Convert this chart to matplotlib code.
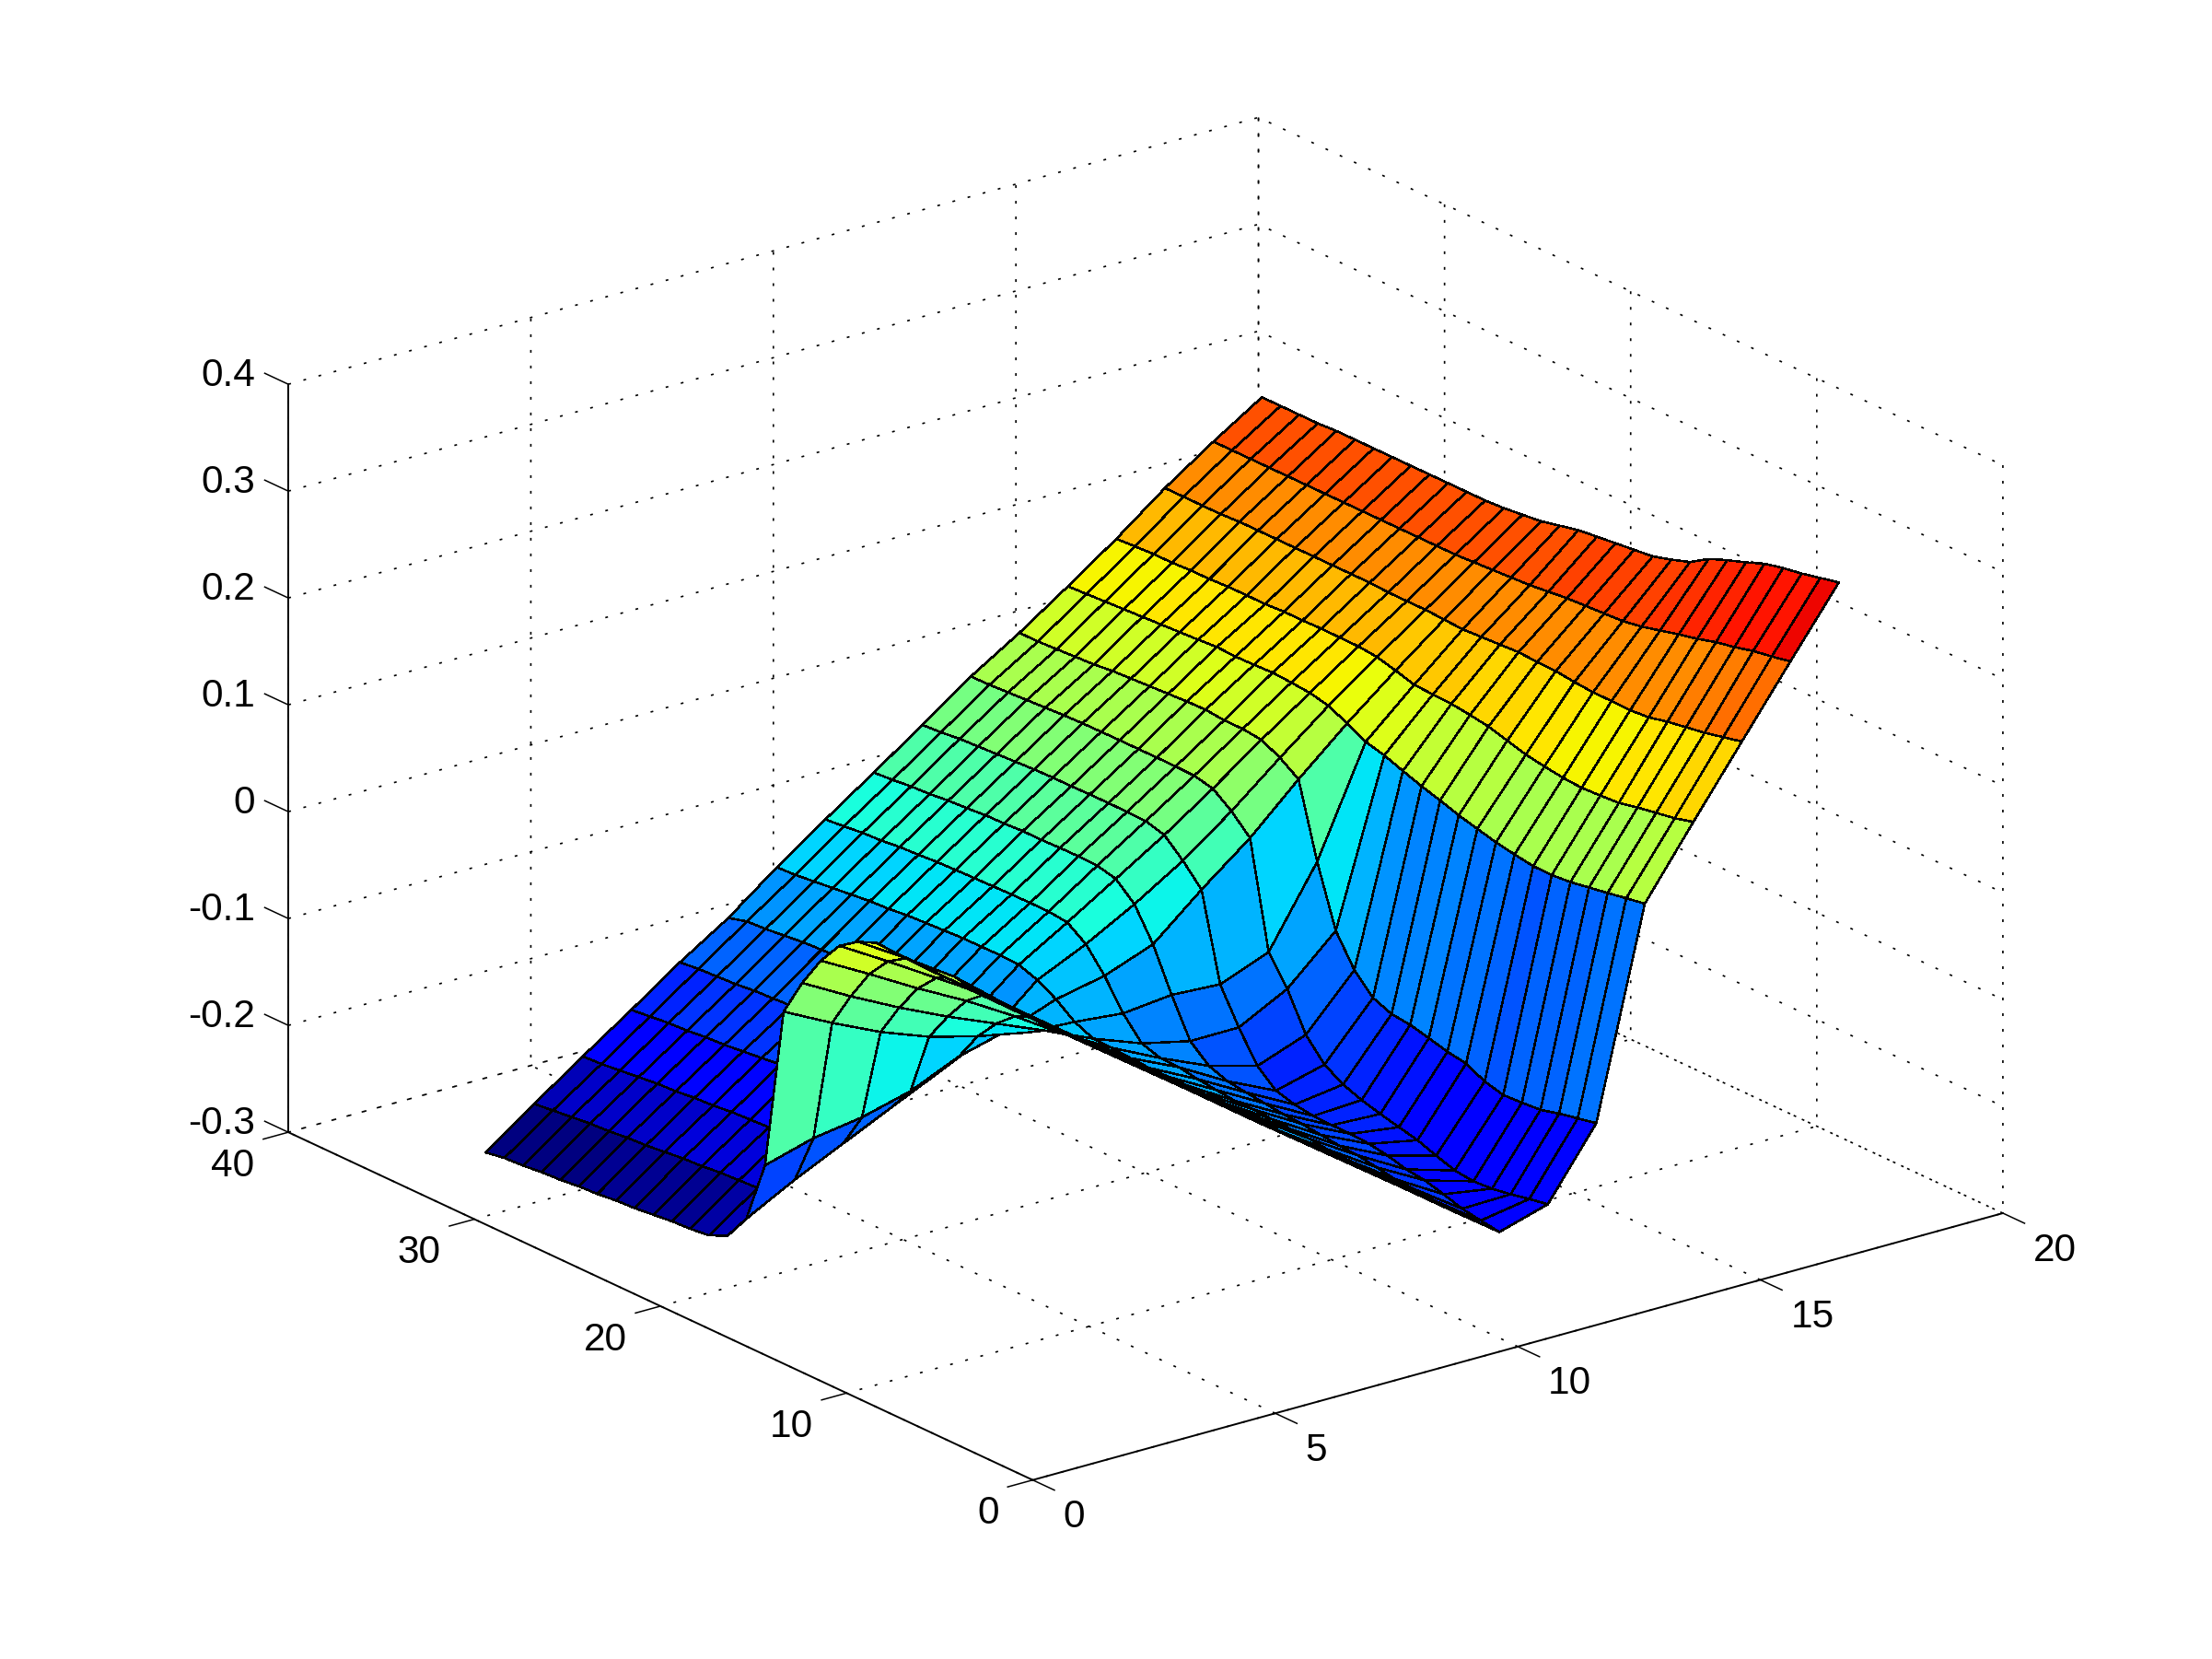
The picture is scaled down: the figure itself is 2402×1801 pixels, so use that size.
import numpy as np
import matplotlib
matplotlib.use("Agg")
import matplotlib.pyplot as plt
from mpl_toolkits.mplot3d import proj3d

x_vals = [2, 3, 4, 5, 6, 7, 8, 9, 10, 11, 12, 13, 14, 15, 16, 17, 18]
y_vals = [3.6, 4.6, 5.6, 6.6, 7.6, 8.6, 9.6, 10.6, 11.6, 12.6, 13.6, 14.6, 15.6, 16.6, 17.6, 18.6,
          19.6, 20.6, 21.6, 22.6, 23.6, 24.6, 25.6, 26.6, 27.6, 28.6, 29.6, 30.6, 31.6, 32.6, 33.6, 34.6]

# one row per x value, 32 heights along y
z_x02 = [.064, .064, .064, .064, .064, .064, .065, .065, .066, .066, .067, .060, .048, .026, -.003, -.038,
         -.190, -.248, -.272, -.280, -.282, -.283, -.285, -.287, -.288, -.290, -.291, -.293, -.294, -.296, -.297, -.300]
z_x03 = [.031, .031, .031, .031, .031, .031, .031, .031, .031, .031, .031, .032, .021, .001, -.028, -.061,
         -.177, -.224, -.244, -.248, -.249, -.250, -.252, -.253, -.255, -.257, -.258, -.260, -.261, -.263, -.265, -.267]
z_x04 = [-.002, -.002, -.002, -.002, -.002, -.002, -.002, -.002, -.002, -.002, -.002, .002, -.007, -.025, -.051, -.082,
         -.170, -.2025, -.212, -.216, -.218, -.220, -.221, -.222, -.224, -.225, -.227, -.228, -.230, -.232, -.234, -.235]
z_x05 = [-.035, -.035, -.035, -.035, -.035, -.035, -.035, -.035, -.035, -.035, -.035, -.035, -.035, -.049, -.072, -.099,
         -.158, -.181, -.185, -.186, -.187, -.188, -.189, -.190, -.192, -.194, -.196, -.197, -.199, -.200, -.202, -.204]
z_x06 = [-.069, -.069, -.069, -.069, -.069, -.069, -.069, -.069, -.069, -.069, -.069, -.069, -.069, -.076, -.091, -.111,
         -.138, -.160, -.160, -.160, -.160, -.161, -.161, -.162, -.163, -.164, -.165, -.166, -.168, -.169, -.170, -.172]
z_x07 = [-.102, -.102, -.102, -.102, -.102, -.102, -.102, -.102, -.102, -.102, -.102, -.102, -.102, -.105, -.110, -.120,
         -.126, -.138, -.130, -.128, -.128, -.128, -.128, -.129, -.130, -.131, -.132, -.133, -.135, -.137, -.138, -.143]
z_x08 = [-.135, -.135, -.135, -.135, -.135, -.133, -.133, -.133, -.133, -.133, -.133, -.133, -.132, -.1305, -.130, -.1225,
         -.1095, -.0995, -.0935, -.0926, -.0929, -.093, -.094, -.095, -.096, -.098, -.099, -.101, -.103, -.105, -.107, -.108]
z_x09 = [-.168, -.168, -.167, -.166, -.165, -.163, -.162, -.161, -.160, -.160, -.158, -.156, -.153, -.1526, -.147, -.127,
         -.100, -.0785, -.0663, -.0643, -.0643, -.0645, -.065, -.0655, -.066, -.0667, -.068, -.069, -.071, -.072, -.074, -.0757]
z_x10 = [-.2016, -.200, -.198, -.197, -.194, -.191, -.190, -.188, -.186, -.185, -.183, -.181, -.1786, -.1723, -.1573, -.1222,
         -.083, -.0536, -.038, -.0338, -.0332, -.0335, -.034, -.034, -.035, -.0355, -.037, -.038, -.040, -.041, -.043, -.0443]
z_x11 = [-.2345, -.232, -.229, -.2236, -.2188, -.2166, -.2119, -.209, -.2078, -.2078, -.2073, -.2048, -.1999, -.1849, -.157, -.1248,
         -.0443, -.0254, -.0095, -.0046, -.0041, -.004, -.004, -.0045, -.0045, -.005, -.006, -.007, -.008, -.009, -.011, -.0123]
z_x12 = [-.2211, -.2243, -.228, -.2309, -.2321, -.2301, -.2244, -.2181, -.214, -.2098, -.2049, -.1985, -.188, -.1682, -.1334, -.1071,
         -.0085, .0085, .0215, .0254, .0259, .026, .026, .026, .0258, .0256, .025, .024, .023, .022, .021, .0206]
z_x13 = [-.1576, -.1613, -.165, -.1696, -.171, -.172, -.1674, -.1588, -.1559, -.1513, -.147, -.145, -.138, -.1202, -.0915, -.035,
         .034, .046, .0547, .0567, .0567, .0584, .058, .057, .056, .055, .054, .052, .051, .05, .049, .049]
z_x14 = [.0353, .0322, .029, .026, .0229, .0214, .0216, .0244, .0276, .0321, .0366, .0424, .0476, .0537, .0602, .0647,
         .0738, .0822, .0861, .0876, .0888, .088, .0875, .0884, .087, .086, .085, .084, .083, .082, .081, .08]
z_x15 = [.0993, .0946, .0915, .0884, .0846, .0832, .0824, .0836, .0861, .089, .094, .099, .1017, .104, .1047, .1056,
         .1108, .1153, .1171, .1173, .1175, .117, .117, .116, .116, .116, .115, .115, .114, .114, .113, .112]
z_x16 = [.162, .158, .154, .151, .148, .144, .1425, .143, .143, .1445, .1466, .147, .148, .147, .146, .145,
         .146, .147, .147, .147, .148, .148, .148, .148, .148, .148, .148, .148, .147, .147, .147, .147]
z_x17 = [.2245, .221, .218, .2135, .210, .205, .201, .1965, .192, .189, .188, .187, .186, .184, .182, .181,
         .180, .179, .178, .178, .178, .178, .178, .178, .178, .178, .178, .178, .178, .178, .178, .178]
z_x18 = [.286, .282, .278, .275, .271, .264, .258, .251, .240, .234, .229, .227, .225, .223, .221, .217,
         .213, .211, .209, .208, .208, .208, .208, .208, .208, .208, .208, .208, .207, .207, .207, .207]

x_ticks = [0, 5, 10, 15, 20]
y_ticks = [0, 10, 20, 30, 40]
z_ticks = [-0.3, -0.2, -0.1, 0, 0.1, 0.2, 0.3, 0.4]
x_labels = ["0", "5", "10", "15", "20"]
y_labels = ["0", "10", "20", "30", "40"]
z_labels = ["-0.3", "-0.2", "-0.1", "0", "0.1", "0.2", "0.3", "0.4"]

W, H = 2402, 1801
FONT_SIZE = 30.5
plt.rcParams["font.family"] = ["Liberation Sans", "DejaVu Sans"]

Z = np.array([z_x02, z_x03, z_x04, z_x05, z_x06, z_x07, z_x08, z_x09, z_x10,
              z_x11, z_x12, z_x13, z_x14, z_x15, z_x16, z_x17, z_x18])
XX, YY = np.meshgrid(x_vals, y_vals, indexing="ij")

fig = plt.figure(figsize=(W / 100, H / 100), dpi=100, facecolor="white")
ax = fig.add_axes([0, 0, 1, 1], projection="3d", proj_type="ortho", facecolor="none")
ax.view_init(elev=21, azim=-127.5)
ax.set_box_aspect((1, 1, 0.655))
ax.set_xlim(0, 20, view_margin=0)
ax.set_ylim(0, 40, view_margin=0)
ax.set_zlim(-0.3, 0.4, view_margin=0)

jet = plt.get_cmap("jet", 64)
colors = jet((Z - Z.min()) / (Z.max() - Z.min()))
surf = ax.plot_surface(XX, YY, Z, rstride=1, cstride=1, facecolors=colors, shade=False, antialiased=False)
surf.set_edgecolor("k")
surf.set_linewidth(1.05)

ax.set_xticks(x_ticks)
ax.set_yticks(y_ticks)
ax.set_zticks(z_ticks)
ax.set_xticklabels([])
ax.set_yticklabels([])
ax.set_zticklabels([])
ax.zaxis.set_ticks_position("upper")

for axis in (ax.xaxis, ax.yaxis, ax.zaxis):
    axis.pane.set_visible(False)
    axis.line.set_color("k")
    axis.line.set_linewidth(1.4)
    axis._axinfo["grid"].update(color="k", linewidth=1.2, linestyle=(0, (1.8, 8.4)))
    axis._axinfo["tick"].update(inward_factor=0.0, outward_factor=0.0)

# matlab style ticks, outside the box
TICK = dict(color="k", lw=1.1, solid_capstyle="butt")
for t in x_ticks:
    ax.plot([t, t], [0, -1.2], [-0.3, -0.3], **TICK)
for t in y_ticks:
    ax.plot([0, -0.53], [t, t], [-0.3, -0.3], **TICK)
for t in z_ticks:
    ax.plot([0, 0], [40, 41.3], [t, t], **TICK)

# put the axes box on the same pixels as the original figure
fig.canvas.draw()
proj = ax.get_proj()
px = np.array([[0, 0, -0.3], [20, 0, -0.3], [0, 40, -0.3], [0, 40, 0.4]])
u, v, _ = proj3d.proj_transform(px[:, 0], px[:, 1], px[:, 2], proj)
target = np.array([[1121.5, H - 1605.5], [2175, H - 1314.5], [313, H - 1231], [313, H - 419]])
scale = (target[3, 1] - target[2, 1]) / (v[3] - v[2])
off_x = np.mean(target[:, 0] - scale * u)
off_y = np.mean(target[:, 1] - scale * v)
vl = ax.viewLim
side = scale * vl.width
ax.set_position([(off_x + scale * vl.x0) / W, (off_y + scale * vl.y0) / H, side / W, side / H])


def put_label(x, y, z, text, ha):
    # tick label at a projected box position
    a, b, _ = proj3d.proj_transform(x, y, z, proj)
    fig.text((off_x + scale * a) / W, (off_y + scale * b) / H, text, ha=ha,
             va="center_baseline", fontsize=FONT_SIZE, color="k")


for t, s in zip(x_ticks, x_labels):
    put_label(t, -1.63, -0.3178, s, "left")
for t, s in zip(y_ticks, y_labels):
    put_label(-0.7, t, -0.319, s, "right")
for t, s in zip(z_ticks, z_labels):
    put_label(-0.683, 40, t + 0.0205, s, "right")

fig.savefig("out.png", dpi=100)
